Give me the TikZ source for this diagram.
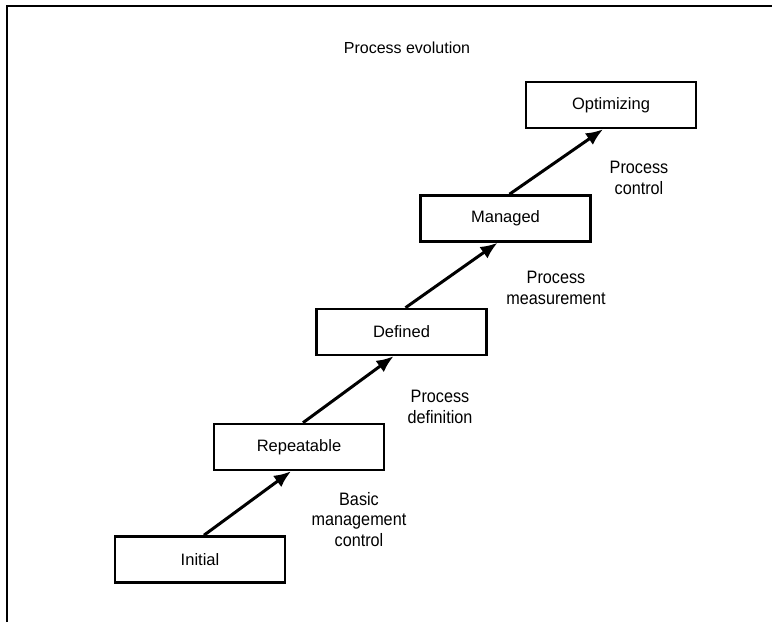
\documentclass[tikz,border=0pt]{standalone}
\usepackage{fontspec}
\setmainfont{Liberation Sans}
\newfontfamily\narrowsans[FakeStretch=0.9]{Liberation Sans}
\usetikzlibrary{arrows.meta}

\tikzset{
	stage/.style={draw, line width=2.6pt, minimum width=170pt, minimum height=46pt, font=\fontsize{16.5}{19}\selectfont},
	stagelabel/.style={align=center, anchor=north, inner sep=0pt, font=\narrowsans\fontsize{18}{20.5}\selectfont},
	steparrow/.style={-{Latex[length=17pt,width=14pt]}, line width=3pt}
}

\begin{document}
\begin{tikzpicture}[x=1pt, y=-1pt]
		\useasboundingbox (0,0) rectangle (772,622);
		%frame
		\draw[line width=2pt] (7,622) -- (7,5.5) -- (772,5.5);
		\node (title) at (407,53.3) [anchor=base, font=\fontsize{16}{19}\selectfont]{Process evolution};
		
		%stages
		\node (init) at (200,559.5) [stage]{Initial};
		\node (rep) at (299,447) [stage]{Repeatable};
		\node (def) at (401.5,332) [stage]{Defined};
		\node (man) at (505.5,218.5) [stage]{Managed};
		\node (opt) at (611,105) [stage]{Optimizing};
		
		%arrows
		\draw[steparrow] ([xshift=4pt]init.north) -- ([xshift=-8pt]rep.south);
		\draw[steparrow] ([xshift=4pt]rep.north) -- ([xshift=-8pt]def.south);
		\draw[steparrow] ([xshift=4pt]def.north) -- ([xshift=-8pt]man.south);
		\draw[steparrow] ([xshift=4pt]man.north) -- ([xshift=-8pt]opt.south);
		
		%labels
		\node (basic) at (359,492) [stagelabel]{Basic\\management\\control};
		\node (defn) at (440,390) [stagelabel]{Process\\definition};
		\node (meas) at (556,271) [stagelabel]{Process\\measurement};
		\node (ctrl) at (639,161) [stagelabel]{Process\\control};
\end{tikzpicture}
\end{document}
